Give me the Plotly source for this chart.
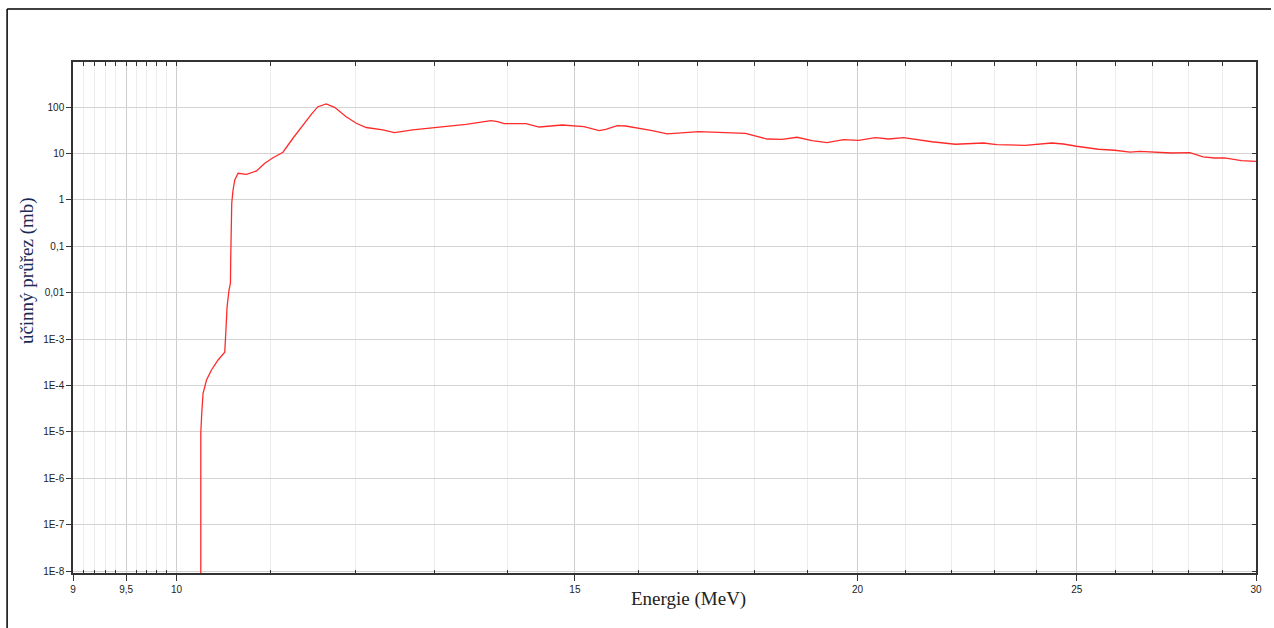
import plotly.graph_objects as go

# Excitation function: energy (MeV) vs. cross section (mb)
energie_mev = [
    10.25, 10.25, 10.26, 10.274, 10.31, 10.362, 10.432, 10.503, 10.514, 10.528,
    10.549, 10.564, 10.567, 10.571, 10.578, 10.592, 10.611, 10.646, 10.738, 10.848,
    10.94, 11.032, 11.144, 11.258, 11.373, 11.47, 11.547, 11.646, 11.745, 11.885,
    12.007, 12.129, 12.336, 12.483, 12.717, 13.023, 13.426, 13.771, 13.864, 13.958,
    14.27, 14.464, 14.81, 15.14, 15.373, 15.478, 15.661, 15.794, 16.009, 16.228,
    16.477, 17.016, 17.843, 18.025, 18.239, 18.519, 18.804, 19.093, 19.386, 19.718,
    20.021, 20.364, 20.641, 20.959, 21.281, 21.571, 22.09, 22.733, 23.042, 23.717,
    24.367, 24.658, 24.993, 25.55, 25.987, 26.387, 26.656, 27.066, 27.526, 28.046,
    28.427, 28.767, 29.06, 29.555, 30.0,
]
ucinny_prurez_mb = [
    1e-10, 9.4e-6, 2.53e-5, 6.83e-5, 1.32e-4, 2.17e-4, 3.56e-4, 5.22e-4, 1.34e-3, 5.0e-3,
    0.0115, 0.016, 0.0509, 0.266, 0.849, 1.64, 2.70, 3.76, 3.58, 4.22,
    6.18, 8.16, 10.7, 21.4, 41.3, 70.3, 102.5, 117.2, 99.5, 62.4,
    45.0, 36.5, 32.3, 28.2, 32.3, 36.2, 42.8, 51.2, 48.7, 44.1,
    44.1, 37.4, 41.3, 38.0, 31.2, 33.4, 39.9, 39.3, 35.1, 31.2,
    26.5, 29.6, 27.4, 24.3, 20.6, 20.3, 22.5, 19.0, 17.2, 19.9,
    19.3, 22.0, 20.6, 22.0, 19.6, 18.0, 15.9, 16.9, 15.6, 15.1,
    16.9, 16.1, 14.4, 12.4, 11.8, 10.8, 11.2, 10.8, 10.3, 10.5,
    8.45, 8.04, 8.04, 7.03, 6.82,
]

# Axis ticks and labels
x_major = [9, 9.5, 10, 15, 20, 25, 30]
x_major_text = ["9", "9,5", "10", "15", "20", "25", "30"]
x_minor = [9.1, 9.2, 9.3, 9.4, 9.6, 9.7, 9.8, 9.9,
           11, 12, 13, 14, 16, 17, 18, 19, 21, 22, 23, 24, 26, 27, 28, 29]
y_ticks = [1e-8, 1e-7, 1e-6, 1e-5, 1e-4, 1e-3, 1e-2, 1e-1, 1, 10, 100]
y_tick_text = ["1E-8", "1E-7", "1E-6", "1E-5", "1E-4", "1E-3", "0,01", "0,1", "1", "10", "100"]

x_range = [0.954243, 1.477121]
y_range = [-8.04, 2.974]

tick_font = dict(family="Liberation Sans, Arial, sans-serif", size=10, color="#222222")
axis_color = "#333333"

fig = go.Figure()
fig.add_trace(go.Scatter(
    x=energie_mev, y=ucinny_prurez_mb, mode="lines",
    line=dict(color="#ff2b2b", width=1.3),
    showlegend=False, hoverinfo="x+y",
))
# helper trace carrying the mirrored top/right axes
fig.add_trace(go.Scatter(x=[None], y=[None], xaxis="x2", yaxis="y2",
                         showlegend=False, hoverinfo="skip"))

fig.update_layout(
    width=1274, height=628, autosize=False,
    margin=dict(l=73, r=16, t=62, b=55),
    paper_bgcolor="white", plot_bgcolor="white",
    xaxis=dict(
        type="log", range=x_range,
        tickmode="array", tickvals=x_major, ticktext=x_major_text,
        ticks="outside", ticklen=6, tickwidth=1, tickcolor=axis_color,
        tickfont=tick_font,
        showgrid=True, gridcolor="#cdcdcd", gridwidth=1,
        showline=True, linecolor=axis_color, linewidth=1.5, mirror=True,
        zeroline=False,
        minor=dict(tickmode="array", tickvals=x_minor, ticks="inside", ticklen=3,
                   tickcolor=axis_color, showgrid=True, gridcolor="#ededed", gridwidth=1),
    ),
    yaxis=dict(
        type="log", range=y_range,
        tickmode="array", tickvals=y_ticks, ticktext=y_tick_text,
        ticks="outside", ticklen=5, tickwidth=1, tickcolor=axis_color,
        tickfont=tick_font,
        showgrid=True, gridcolor="#d3d3d3", gridwidth=1,
        showline=True, linecolor=axis_color, linewidth=1.5, mirror=True,
        zeroline=False,
    ),
    xaxis2=dict(
        type="log", range=x_range, overlaying="x", side="top", anchor="y",
        tickmode="array", tickvals=x_major + x_minor,
        ticks="inside", ticklen=4, tickcolor=axis_color,
        showticklabels=False, showgrid=False, showline=False, zeroline=False,
    ),
    yaxis2=dict(
        type="log", range=y_range, overlaying="y", side="right", anchor="x",
        tickmode="array", tickvals=y_ticks,
        ticks="inside", ticklen=4, tickcolor=axis_color,
        showticklabels=False, showgrid=False, showline=False, zeroline=False,
    ),
    annotations=[
        dict(text="Energie (MeV)", xref="paper", yref="paper", x=0.5207, y=-0.051,
             xanchor="center", yanchor="middle", showarrow=False,
             font=dict(family="Liberation Serif, Times New Roman, serif", size=19,
                       color="#222222")),
        dict(text="účinný průřez (mb)", xref="paper", yref="paper", x=-0.0388, y=0.591,
             xanchor="center", yanchor="middle", showarrow=False, textangle=-90,
             font=dict(family="Liberation Serif, Times New Roman, serif", size=19,
                       color="#1b2a55")),
    ],
    shapes=[
        dict(type="line", xref="paper", yref="paper", x0=-0.0557, x1=1.0127,
             y0=1.1037, y1=1.1037, line=dict(color="black", width=1.5)),
        dict(type="line", xref="paper", yref="paper", x0=-0.0557, x1=-0.0557,
             y0=1.1037, y1=-0.11, line=dict(color="black", width=1.5)),
    ],
)

fig.write_html("out.html")
